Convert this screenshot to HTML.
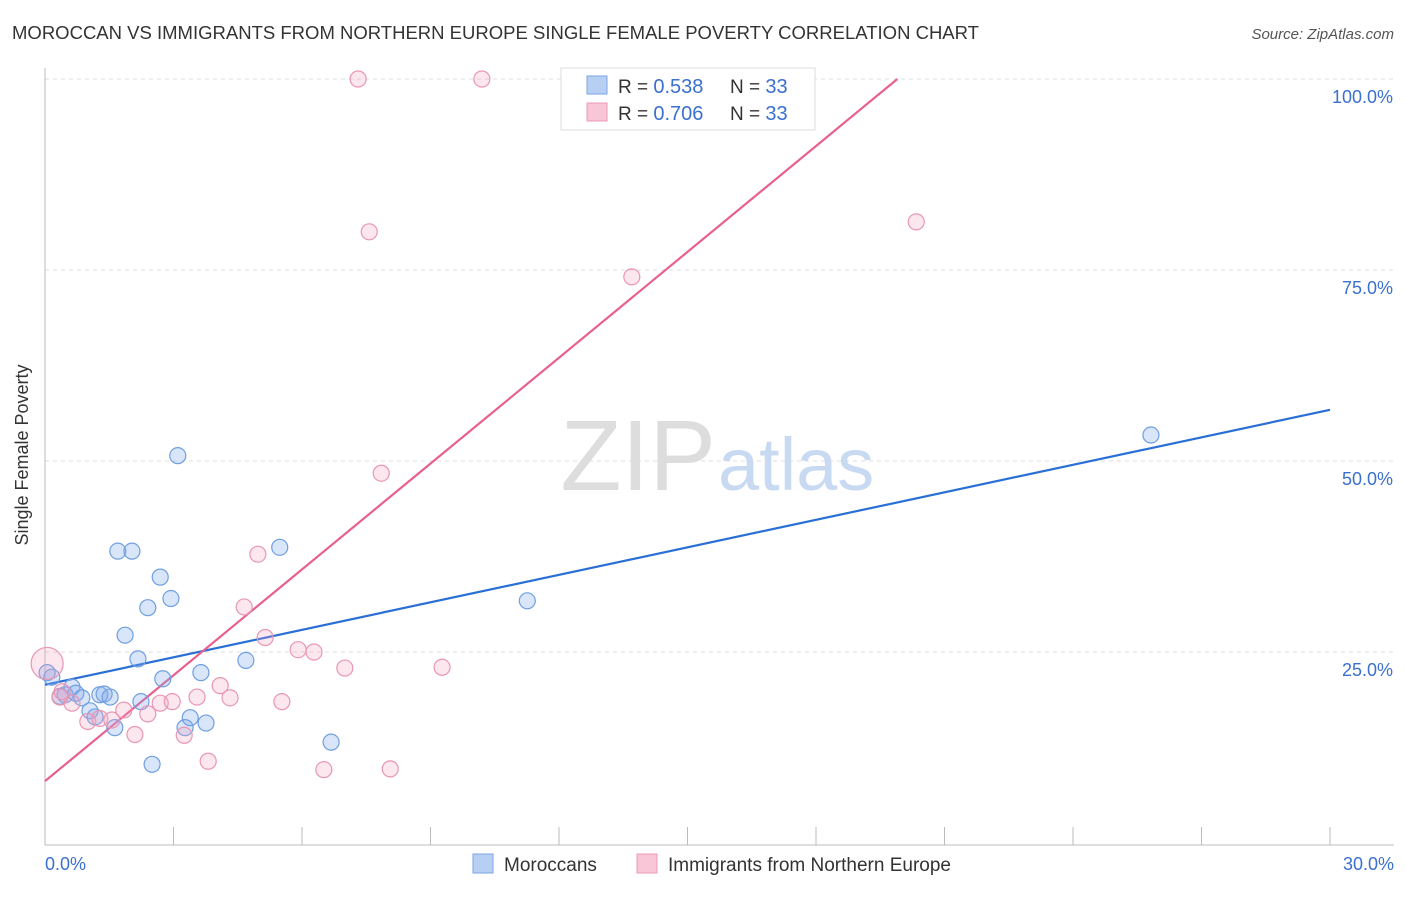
<!DOCTYPE html>
<html><head><meta charset="utf-8"><style>
body{margin:0;background:#fff;font-family:"Liberation Sans",sans-serif;}
svg text{font-family:"Liberation Sans",sans-serif;}
</style></head><body>
<svg width="1406" height="892" xmlns="http://www.w3.org/2000/svg">
<text x="12" y="39" font-size="18" fill="#333" textLength="967" lengthAdjust="spacingAndGlyphs">MOROCCAN VS IMMIGRANTS FROM NORTHERN EUROPE SINGLE FEMALE POVERTY CORRELATION CHART</text>
<text x="1394" y="39" font-size="15" fill="#555" font-style="italic" text-anchor="end">Source: ZipAtlas.com</text>
<g id="grid"></g>
<text x="716" y="490" font-size="100" fill="#ddd" text-anchor="end" font-family="Liberation Serif">ZIP</text>
<text x="718" y="490" font-size="74" fill="#c8daf2">atlas</text>
<line x1="45" y1="68" x2="45" y2="845" stroke="#bbb"/>
<line x1="45" y1="845" x2="1394" y2="845" stroke="#bbb"/>
<g id="ticks"></g>
<g id="lines"></g>
<g id="pts"></g>
<text x="28" y="455" font-size="18" fill="#333" transform="rotate(-90 28 455)" text-anchor="middle">Single Female Poverty</text>
<text x="45" y="870" font-size="18" fill="#3a70d0">0.0%</text>
<text x="1394" y="870" font-size="18" fill="#3a70d0" text-anchor="end">30.0%</text>
<g>
<rect x="561" y="68" width="254" height="62" fill="#fff" stroke="#ddd"/>
<rect x="587" y="76" width="20" height="18" fill="#b7cff3" stroke="#7aa5e6"/>
<rect x="587" y="103" width="20" height="18" fill="#f8c6d6" stroke="#eb9ab6"/>
<text x="618" y="93" font-size="19" fill="#333">R = <tspan fill="#3a70d0" font-size="20">0.538</tspan></text>
<text x="730" y="93" font-size="19" fill="#333">N = <tspan fill="#3a70d0" font-size="20">33</tspan></text>
<text x="618" y="120" font-size="19" fill="#333">R = <tspan fill="#3a70d0" font-size="20">0.706</tspan></text>
<text x="730" y="120" font-size="19" fill="#333">N = <tspan fill="#3a70d0" font-size="20">33</tspan></text>
</g>
<g>
<rect x="473" y="854" width="20" height="19" fill="#b7cff3" stroke="#7aa5e6"/>
<text x="504" y="871" font-size="19" fill="#333">Moroccans</text>
<rect x="637" y="854" width="20" height="19" fill="#f8c6d6" stroke="#eb9ab6"/>
<text x="668" y="871" font-size="19" fill="#333">Immigrants from Northern Europe</text>
</g>
</svg>
<script>
const yTicks=[25,50,75,100];
const xTicks=[3,6,9,12,15,18,21,24,27,30];
const blueX=[0.05,0.16,0.35,0.47,0.63,0.72,0.86,1.05,1.17,1.28,1.38,1.52,1.63,1.70,1.87,2.03,2.17,2.24,2.40,2.50,2.69,2.75,2.94,3.10,3.27,3.39,3.64,3.76,4.69,5.48,6.68,11.26,25.82];
const blueY=[22.3,21.7,19.2,19.4,20.4,19.6,19.0,17.3,16.5,19.4,19.5,19.1,15.1,38.2,27.2,38.2,24.1,18.5,30.8,10.3,34.8,21.5,32.0,50.7,15.1,16.4,22.3,15.7,23.9,38.7,13.2,31.7,53.4];
const pinkX=[0.05,0.35,0.63,1.0,1.28,1.56,1.84,2.10,2.40,2.69,2.97,3.25,3.55,3.81,4.09,4.32,4.65,4.97,5.14,5.53,5.91,6.28,6.51,7.0,7.31,7.57,7.85,8.06,9.27,10.20,13.70,20.34,0.40];
const pinkY=[23.5,19.1,18.3,15.9,16.3,16.1,17.4,14.2,16.9,18.3,18.5,14.1,19.1,10.7,20.6,19.0,30.9,37.8,26.9,18.5,25.3,25.0,9.6,22.9,100,80.0,48.4,9.7,23.0,100,74.1,81.3,19.8];
const blueLine=[[0,20.7],[30,56.7]];
const pinkLine=[[0,8.1],[19.9,100]];
const NS="http://www.w3.org/2000/svg";
const sx=v=>45+v*(1285/30), sy=v=>843-v*7.64;
function mk(t,a,p){const e=document.createElementNS(NS,t);for(const k in a)e.setAttribute(k,a[k]);document.getElementById(p).appendChild(e);return e;}
yTicks.forEach(v=>{
 const l=mk('line',{x1:45,x2:1394,y1:sy(v),y2:sy(v),stroke:'#ddd','stroke-dasharray':'4,4'},'grid');
 
 
 const t=mk('text',{x:1393,y:sy(v)+24,'font-size':18,fill:'#3a70d0','text-anchor':'end'},'grid');
 t.textContent=v.toFixed(1)+'%';
 
 
});
xTicks.forEach(v=>{
 const l=mk('line',{x1:sx(v),x2:sx(v),y1:827,y2:845,stroke:'#bbb'},'ticks');
 
 
});
function pts(xs,ys,fill,stroke,name){xs.forEach((x,i)=>{
 const c=mk('circle',{cx:sx(x),cy:sy(ys[i]),r:(i==0&&name=='pink-point')?16:8,fill:fill,stroke:stroke,'stroke-width':1.2},'pts');
 
 
});}
pts(blueX,blueY,'rgba(130,170,235,0.3)','#6f9fe2','blue-point');
pts(pinkX,pinkY,'rgba(245,160,190,0.25)','#e996b3','pink-point');
let l1=mk('line',{x1:sx(blueLine[0][0]),y1:sy(blueLine[0][1]),x2:sx(blueLine[1][0]),y2:sy(blueLine[1][1]),stroke:'#2a6fd6','stroke-width':2.2},'lines');


let l2=mk('line',{x1:sx(pinkLine[0][0]),y1:sy(pinkLine[0][1]),x2:sx(pinkLine[1][0]),y2:sy(pinkLine[1][1]),stroke:'#e8608e','stroke-width':2.2},'lines');


</script>
</body></html>
